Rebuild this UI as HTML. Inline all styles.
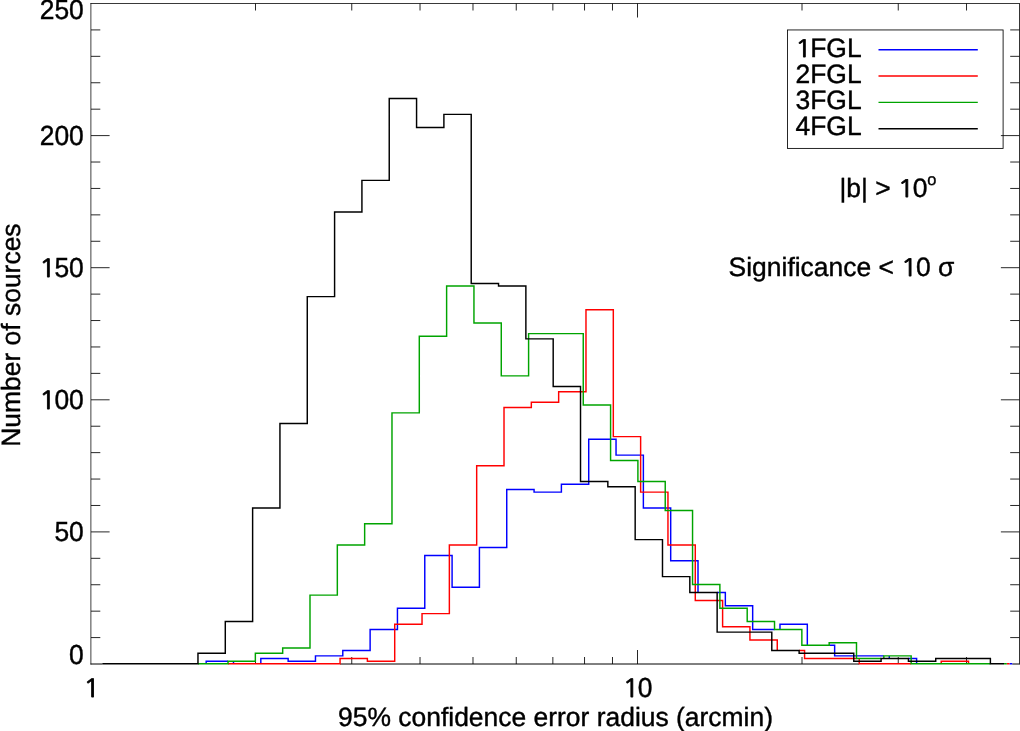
<!DOCTYPE html>
<html><head><meta charset="utf-8"><title>95% confidence error radius</title>
<style>html,body{margin:0;padding:0;background:#fff}body{width:1020px;height:731px;overflow:hidden}svg{display:block;will-change:transform}text{font-family:"Liberation Sans",Arial,Helvetica,sans-serif;fill:#000;stroke:#000;stroke-width:0.4px;text-rendering:geometricPrecision}.n1{font-family:NanumGothic,"Liberation Sans",sans-serif;stroke-width:0.75px}</style></head><body>
<svg width="1020" height="731" viewBox="0 0 1020 731">
<rect width="1020" height="731" fill="#fff"/>
<g stroke="#000" fill="none">
<path d="M90.875 664.50 V3.11" stroke-width="0.75"/>
<path d="M90.5 3.50 H1019.89" stroke-width="0.78"/>
<path d="M1019.5 3.50 V664.50" stroke-width="0.8"/>
<path d="M90.50 664.00 H102.33 M340.06 664.00 H859.23 M1012.25 664.00 H1019.49" stroke-width="1"/>
<path d="M91.00 637.58 h9.30 M1019.49 637.58 h-9.30 M91.00 611.16 h9.30 M1019.49 611.16 h-9.30 M91.00 584.74 h9.30 M1019.49 584.74 h-9.30 M91.00 558.32 h9.30 M1019.49 558.32 h-9.30 M91.00 531.90 h18.60 M1019.49 531.90 h-18.60 M91.00 505.48 h9.30 M1019.49 505.48 h-9.30 M91.00 479.06 h9.30 M1019.49 479.06 h-9.30 M91.00 452.64 h9.30 M1019.49 452.64 h-9.30 M91.00 426.22 h9.30 M1019.49 426.22 h-9.30 M91.00 399.80 h18.60 M1019.49 399.80 h-18.60 M91.00 373.38 h9.30 M1019.49 373.38 h-9.30 M91.00 346.96 h9.30 M1019.49 346.96 h-9.30 M91.00 320.54 h9.30 M1019.49 320.54 h-9.30 M91.00 294.12 h9.30 M1019.49 294.12 h-9.30 M91.00 267.70 h18.60 M1019.49 267.70 h-18.60 M91.00 241.28 h9.30 M1019.49 241.28 h-9.30 M91.00 214.86 h9.30 M1019.49 214.86 h-9.30 M91.00 188.44 h9.30 M1019.49 188.44 h-9.30 M91.00 162.02 h9.30 M1019.49 162.02 h-9.30 M91.00 135.60 h18.60 M1019.49 135.60 h-18.60 M91.00 109.18 h9.30 M1019.49 109.18 h-9.30 M91.00 82.76 h9.30 M1019.49 82.76 h-9.30 M91.00 56.34 h9.30 M1019.49 56.34 h-9.30 M91.00 29.92 h9.30 M1019.49 29.92 h-9.30 M255.51 664.00 v-7.00 M255.51 3.50 v7.00 M351.75 664.00 v-7.00 M351.75 3.50 v7.00 M420.03 664.00 v-7.00 M420.03 3.50 v7.00 M472.99 664.00 v-7.00 M472.99 3.50 v7.00 M516.26 664.00 v-7.00 M516.26 3.50 v7.00 M552.85 664.00 v-7.00 M552.85 3.50 v7.00 M584.54 664.00 v-7.00 M584.54 3.50 v7.00 M612.49 664.00 v-7.00 M612.49 3.50 v7.00 M637.50 664.00 v-14.00 M637.50 3.50 v14.00 M802.01 664.00 v-7.00 M802.01 3.50 v7.00 M898.25 664.00 v-7.00 M898.25 3.50 v7.00 M966.53 664.00 v-7.00 M966.53 3.50 v7.00" stroke-width="0.85"/>
</g>
<path d="M206.17 663.80 L206.17 661.16 L228.03 661.16 M233.49 661.16 L233.49 663.80 M260.82 663.80 L260.82 658.52 L288.14 658.52 L288.14 661.16 L315.47 661.16 L315.47 655.88 L342.79 655.88 L342.79 650.59 L370.12 650.59 L370.12 629.46 L397.44 629.46 L397.44 608.33 L424.77 608.33 L424.77 555.49 L452.09 555.49 L452.09 587.19 L479.42 587.19 L479.42 547.57 L506.74 547.57 L506.74 489.45 L534.07 489.45 L534.07 492.10 L561.39 492.10 L561.39 484.17 L588.72 484.17 L588.72 439.26 L616.04 439.26 L616.04 455.11 L643.37 455.11 L643.37 507.95 L670.69 507.95 L670.69 560.78 L698.01 560.78 L698.01 592.48 M717.14 592.48 L725.34 592.48 L725.34 605.68 L752.67 605.68 L752.67 629.46 L774.52 629.46 M779.99 629.46 L779.99 624.18 L807.32 624.18 L807.32 645.31 M829.18 645.31 L834.64 645.31 L834.64 655.88 L883.83 655.88 M889.29 655.88 L889.29 658.52 M908.42 658.52 L916.62 658.52 L916.62 663.80 M1009.52 663.80 L1012.25 663.80" fill="none" stroke="#0000ff" stroke-width="1.45" stroke-linejoin="miter" stroke-linecap="butt"/>
<path d="M228.03 663.80 L340.06 663.80 L340.06 658.52 L367.38 658.52 L367.38 661.16 L394.71 661.16 L394.71 624.18 L422.03 624.18 L422.03 613.61 L449.36 613.61 L449.36 544.93 L476.68 544.93 L476.68 465.68 L504.01 465.68 L504.01 407.56 L531.33 407.56 L531.33 402.28 L558.66 402.28 L558.66 391.72 L585.98 391.72 L585.98 309.83 L613.31 309.83 L613.31 436.62 L640.63 436.62 L640.63 492.10 L667.96 492.10 L667.96 544.93 L695.28 544.93 L695.28 600.40 L722.61 600.40 L722.61 626.82 L749.93 626.82 L749.93 640.03 L777.26 640.03 L777.26 650.59 M799.12 650.59 L804.58 650.59 L804.58 658.52 L856.50 658.52 M859.23 658.52 L859.23 663.80 L911.15 663.80 M941.21 663.80 L941.21 661.16 L968.53 661.16 L968.53 663.80 M1006.79 663.80 L1009.52 663.80" fill="none" stroke="#ff0000" stroke-width="1.45" stroke-linejoin="miter" stroke-linecap="butt"/>
<path d="M197.97 663.80 L228.03 663.80 L228.03 661.16 L255.35 661.16 L255.35 653.23 L282.68 653.23 L282.68 647.95 L310.00 647.95 L310.00 595.12 L337.33 595.12 L337.33 544.93 L364.65 544.93 L364.65 523.80 L391.98 523.80 L391.98 412.85 L419.30 412.85 L419.30 336.24 L446.62 336.24 L446.62 286.05 L473.95 286.05 L473.95 323.03 L501.27 323.03 L501.27 375.87 L528.60 375.87 L528.60 333.60 L583.25 333.60 L583.25 404.92 L610.58 404.92 L610.58 460.40 L637.90 460.40 L637.90 481.53 L665.23 481.53 L665.23 510.59 L692.55 510.59 L692.55 584.55 L719.88 584.55 L719.88 608.33 L747.20 608.33 L747.20 621.53 L774.52 621.53 L774.52 629.46 L801.85 629.46 L801.85 645.31 L829.18 645.31 L829.18 642.67 L856.50 642.67 L856.50 658.52 L881.09 658.52 M883.83 658.52 L883.83 655.88 L911.15 655.88 L911.15 663.80 L990.39 663.80 M1004.06 663.80 L1006.79 663.80" fill="none" stroke="#00a400" stroke-width="1.45" stroke-linejoin="miter" stroke-linecap="butt"/>
<path d="M102.33 663.80 L197.97 663.80 L197.97 653.23 L225.29 653.23 L225.29 621.53 L252.62 621.53 L252.62 507.95 L279.94 507.95 L279.94 423.41 L307.27 423.41 L307.27 296.62 L334.59 296.62 L334.59 212.09 L361.92 212.09 L361.92 180.39 L389.24 180.39 L389.24 98.50 L416.57 98.50 L416.57 127.56 L443.89 127.56 L443.89 114.35 L471.22 114.35 L471.22 283.41 L498.54 283.41 L498.54 286.05 L525.87 286.05 L525.87 338.88 L553.19 338.88 L553.19 386.43 L580.52 386.43 L580.52 481.53 L607.84 481.53 L607.84 486.81 L635.17 486.81 L635.17 539.64 L662.49 539.64 L662.49 576.63 L689.82 576.63 L689.82 592.48 L717.14 592.48 L717.14 632.10 L771.79 632.10 L771.79 650.59 L799.12 650.59 L799.12 653.23 L853.77 653.23 L853.77 661.16 L881.09 661.16 L881.09 658.52 L908.42 658.52 L908.42 661.16 L935.74 661.16 L935.74 658.52 L990.39 658.52 L990.39 663.80 L1004.06 663.80" fill="none" stroke="#000000" stroke-width="1.45" stroke-linejoin="miter" stroke-linecap="butt"/>
<rect x="787.5" y="29.95" width="215.6" height="118.45" fill="none" stroke="#000" stroke-width="0.85"/>
<text x="795.5" y="56.55" font-size="26.45"><tspan class="n1" font-size="23.90" dx="-0.60" textLength="16.95" lengthAdjust="spacingAndGlyphs">1</tspan><tspan dx="-1.64">FGL</tspan></text>
<path d="M878.5 49.65 H977.8" stroke="#0000ff" stroke-width="1.45" fill="none"/>
<text x="795.5" y="82.75" font-size="26.45">2FGL</text>
<path d="M878.5 76.00 H977.8" stroke="#ff0000" stroke-width="1.45" fill="none"/>
<text x="795.5" y="108.95" font-size="26.45">3FGL</text>
<path d="M878.5 102.35 H977.8" stroke="#00a400" stroke-width="1.45" fill="none"/>
<text x="795.5" y="135.15" font-size="26.45">4FGL</text>
<path d="M878.5 128.70 H977.8" stroke="#000000" stroke-width="1.45" fill="none"/>
<text x="839.5" y="197.1" font-size="26.45">|b| &gt; <tspan class="n1" font-size="23.90" dx="-0.60" textLength="16.95" lengthAdjust="spacingAndGlyphs">1</tspan><tspan dx="-1.64">0</tspan><tspan font-size="16.40" dy="-12.5" dx="-0.3">o</tspan></text>
<text x="728.6" y="276.2" font-size="26.45">Significance &lt; <tspan class="n1" font-size="23.90" dx="-0.60" textLength="16.95" lengthAdjust="spacingAndGlyphs">1</tspan><tspan dx="-1.64">0 σ</tspan></text>
<text transform="translate(69.09 664.20) scale(1 1.045)" font-size="26.45">0</text>
<text transform="translate(54.39 540.80) scale(1 1.045)" font-size="26.45">50</text>
<text transform="translate(39.68 408.70) scale(1 1.045)" font-size="26.45"><tspan class="n1" font-size="23.90" dx="-0.60" textLength="16.95" lengthAdjust="spacingAndGlyphs">1</tspan><tspan dx="-1.64">00</tspan></text>
<text transform="translate(39.68 276.60) scale(1 1.045)" font-size="26.45"><tspan class="n1" font-size="23.90" dx="-0.60" textLength="16.95" lengthAdjust="spacingAndGlyphs">1</tspan><tspan dx="-1.64">50</tspan></text>
<text transform="translate(39.68 144.50) scale(1 1.045)" font-size="26.45">200</text>
<text transform="translate(39.68 19.10) scale(1 1.045)" font-size="26.45">250</text>
<text transform="translate(83.85 697.0) scale(1 1.045)" font-size="26.45"><tspan class="n1" font-size="23.90" dx="-0.60" textLength="16.95" lengthAdjust="spacingAndGlyphs">1</tspan></text>
<text transform="translate(622.99 697.0) scale(1 1.045)" font-size="26.45"><tspan class="n1" font-size="23.90" dx="-0.60" textLength="16.95" lengthAdjust="spacingAndGlyphs">1</tspan><tspan dx="-1.64">0</tspan></text>
<text x="555.5" y="725.6" font-size="26.45" text-anchor="middle">95% confidence error radius (arcmin)</text>
<text transform="translate(19.5 335.1) rotate(-90)" font-size="26.45" text-anchor="middle">Number of sources</text>
</svg></body></html>
